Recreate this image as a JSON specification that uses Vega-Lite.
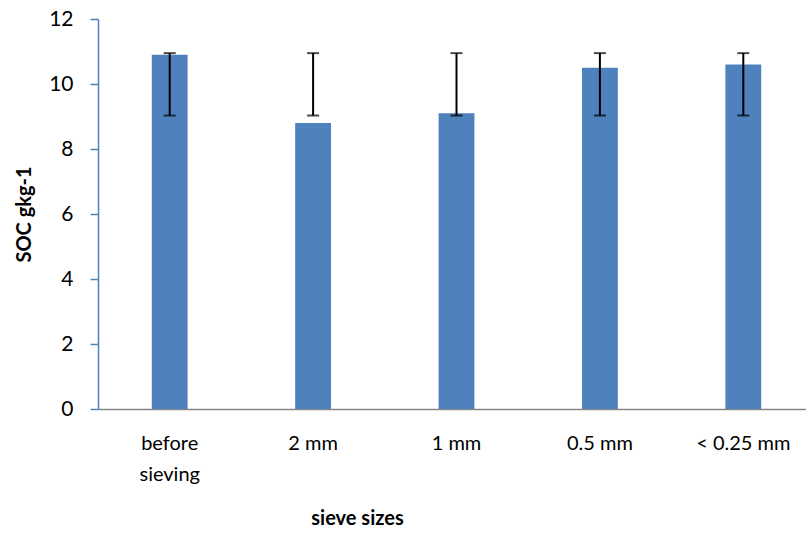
{
  "$schema": "https://vega.github.io/schema/vega-lite/v6.json",
  "width": 717,
  "height": 390,
  "autosize": "none",
  "padding": {"left": 98, "top": 19, "right": 0, "bottom": 125},
  "background": "white",
  "config": {
    "view": {"stroke": null},
    "font": "Lato"
  },
  "data": {
    "values": [
      {"size": "before sieving", "soc": 10.9, "low": 9.03, "high": 10.95},
      {"size": "2 mm", "soc": 8.8, "low": 9.03, "high": 10.95},
      {"size": "1 mm", "soc": 9.1, "low": 9.03, "high": 10.95},
      {"size": "0.5 mm", "soc": 10.5, "low": 9.03, "high": 10.95},
      {"size": "< 0.25 mm", "soc": 10.6, "low": 9.03, "high": 10.95}
    ]
  },
  "encoding": {
    "x": {
      "field": "size",
      "type": "nominal",
      "sort": null,
      "scale": {"paddingInner": 0.75, "paddingOuter": 0.375},
      "axis": {
        "title": "sieve sizes",
        "titleFont": "Lato",
        "titleFontSize": 20,
        "titleFontWeight": "bold",
        "titleColor": "#000000",
        "titleX": 259,
        "titleY": 109,
        "titleAnchor": null,
        "titleAlign": "center",
        "titleBaseline": "middle",
        "labelAngle": 0,
        "labelFont": "Lato",
        "labelFontSize": 20,
        "labelColor": "#000000",
        "labelLineHeight": 31,
        "labelBaseline": "top",
        "labelPadding": 24,
        "labelExpr": "datum.label == 'before sieving' ? ['before', 'sieving'] : datum.label",
        "ticks": false,
        "domainColor": "#868686",
        "domainWidth": 1.5,
        "grid": false
      }
    }
  },
  "layer": [
    {
      "mark": {"type": "bar", "color": "#4F81BD"},
      "encoding": {
        "y": {
          "field": "soc",
          "type": "quantitative",
          "scale": {"domain": [0, 12], "nice": false},
          "axis": {
            "values": [0, 2, 4, 6, 8, 10, 12],
            "title": "SOC gkg-1",
            "titleFont": "Lato",
            "titleFontSize": 20,
            "titleFontWeight": "bold",
            "titleColor": "#000000",
            "titleAngle": 270,
            "titleX": -74,
            "titleY": 195,
            "titleAlign": "center",
            "titleBaseline": "middle",
            "labelFont": "Lato",
            "labelFontSize": 21,
            "labelColor": "#000000",
            "labelPadding": 17,
            "tickSize": 8,
            "tickColor": "#4F81BD",
            "domainColor": "#4F81BD",
            "domainWidth": 1.5,
            "tickWidth": 1.5,
            "grid": false
          }
        }
      }
    },
    {
      "mark": {"type": "rule", "color": "#000000", "strokeWidth": 2},
      "encoding": {
        "y": {"field": "low", "type": "quantitative"},
        "y2": {"field": "high"}
      }
    },
    {
      "mark": {"type": "tick", "color": "#000000", "thickness": 2, "size": 12},
      "encoding": {
        "y": {"field": "low", "type": "quantitative"}
      }
    },
    {
      "mark": {"type": "tick", "color": "#000000", "thickness": 2, "size": 12},
      "encoding": {
        "y": {"field": "high", "type": "quantitative"}
      }
    }
  ]
}
